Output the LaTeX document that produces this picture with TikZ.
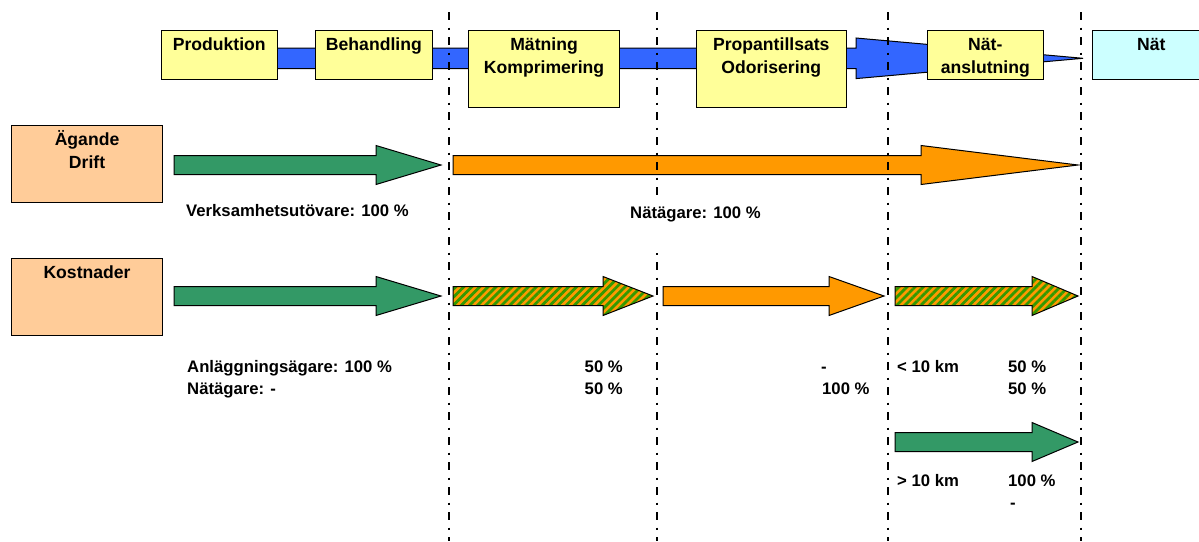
\documentclass[tikz,border=0pt]{standalone}
\usepackage{fontspec}
\setmainfont{Liberation Sans}
\usetikzlibrary{patterns.meta}
\definecolor{boxyellow}{HTML}{FFFF99}
\definecolor{netcyan}{HTML}{CCFFFF}
\definecolor{peach}{HTML}{FFCC99}
\definecolor{flowblue}{HTML}{3366FF}
\definecolor{arrgreen}{HTML}{339966}
\definecolor{arrorange}{HTML}{FF9900}
\definecolor{hatchgreen}{HTML}{339900}
\newcommand\boxtxt[3]{\parbox[t][#2pt][t]{#1pt}{\centering\rule{0pt}{19.5pt}#3}}
\newcommand\blockarrow[5]{%
  \draw[#1] (#2,#5-9.5) -- (#3,#5-9.5) -- (#3,#5-19.5) -- (#4,#5) -- (#3,#5+19.5) -- (#3,#5+9.5) -- (#2,#5+9.5) -- cycle;}
\tikzset{
  stagebox/.style={draw=black, line width=1.1pt, fill=boxyellow, inner sep=0pt, anchor=north west,
    font=\bfseries\fontsize{17.6}{23}\selectfont},
  rolebox/.style={stagebox, fill=peach},
  lbl/.style={inner sep=0pt, anchor=base west, font=\bfseries\fontsize{16.7}{22}\selectfont},
  sepline/.style={line width=1.8pt, dash pattern=on 8pt off 7.5pt on 2pt off 7.5pt},
  greenarr/.style={draw=black, line width=1pt, fill=arrgreen},
  orangearr/.style={draw=black, line width=1pt, fill=arrorange},
  hatcharr/.style={draw=black, line width=1pt, preaction={fill=arrorange},
    pattern={Lines[angle=45,distance=5.7pt,line width=2.8pt]}, pattern color=hatchgreen},
  flowarr/.style={draw=black, line width=1pt, fill=flowblue}
}
\begin{document}
\begin{tikzpicture}[x=1pt,y=-1pt]
\path[use as bounding box] (0,0) rectangle (1199,541);
\clip (0,0) rectangle (1199,541);
% process flow
\draw[flowarr] (220,48) -- (856,48) -- (856,38) -- (1083,58.3) -- (856,78.6) -- (856,68.6) -- (220,68.6) -- cycle;
\node[stagebox] (prod) at (160.7,30) {\boxtxt{116}{49}{Produktion}};
\node[stagebox] (behand) at (315,30) {\boxtxt{116.7}{49}{Behandling}};
\node[stagebox] (matn) at (468,30) {\boxtxt{151}{77}{Mätning\\Komprimering}};
\node[stagebox] (prop) at (695.5,30) {\boxtxt{150.5}{77}{Propantillsats\\Odorisering}};
\node[stagebox] (natansl) at (926.5,30) {\boxtxt{116.5}{49}{Nät-\\anslutning}};
\node[stagebox, fill=netcyan] (nat) at (1091.7,30) {\boxtxt{118}{49}{Nät}};
% role boxes
\node[rolebox] (agande) at (11,125) {\boxtxt{151}{77}{Ägande\\Drift}};
\node[rolebox] (kost) at (11,258) {\boxtxt{151}{77}{Kostnader}};
% row 1
\blockarrow{greenarr}{174}{376}{441}{165}
\blockarrow{orangearr}{453}{921}{1078}{165}
% row 2
\blockarrow{greenarr}{174}{376}{441}{296}
\blockarrow{hatcharr}{453}{603}{653}{296}
\blockarrow{orangearr}{663}{829}{884}{296}
\blockarrow{hatcharr}{895}{1032}{1078}{296}
% row 3
\blockarrow{greenarr}{895}{1032}{1078}{442}
% separators
\draw[sepline] (449,12) -- (449,541);
\draw[sepline] (657.3,12) -- (657.3,541);
\draw[sepline] (888,12) -- (888,541);
\draw[sepline] (1080.7,12) -- (1080.7,541);
% labels
\node[lbl] (verk) at (186,216) {Verksamhetsutövare: 100 \%};
\node[lbl, fill=white] (natag) at (630,218) {\rule[-35pt]{0pt}{56pt}Nätägare: 100 \%};
\node[lbl] (anl1) at (187,372) {Anläggningsägare: 100 \%};
\node[lbl] (anl2) at (187,394) {Nätägare: -};
\node[lbl, anchor=base east] (p50a) at (623,372) {50 \%};
\node[lbl, anchor=base east] (p50b) at (623,394) {50 \%};
\node[lbl] (dasha) at (821,372) {-};
\node[lbl] (p100a) at (822,394) {100 \%};
\node[lbl] (lt10) at (897,372) {\textless{} 10 km};
\node[lbl] (p50c) at (1008,372) {50 \%};
\node[lbl] (p50d) at (1008,394) {50 \%};
\node[lbl] (gt10) at (897,486) {\textgreater{} 10 km};
\node[lbl] (p100b) at (1008,486) {100 \%};
\node[lbl] (dashb) at (1010,508) {-};
\end{tikzpicture}
\end{document}
